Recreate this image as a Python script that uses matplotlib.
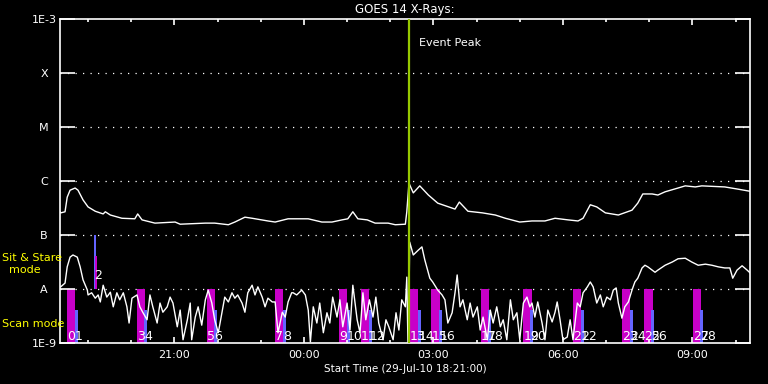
"""GOES 14 X-ray light curve with IRIS-style observing-mode bars (IDL look)."""
import matplotlib
matplotlib.use("Agg")
import matplotlib.pyplot as plt
from matplotlib import font_manager
import numpy as np

# time = minutes after 29-Jul-10 18:21:00, flux = log10(W/m^2)
long_t = [0, 1, 7, 10, 14, 21, 25, 32, 39, 49,
          60, 63, 70, 86, 104, 108, 114, 132, 160, 167,
          202, 215, 234, 243, 257, 267, 289, 299, 317, 345,
          364, 378, 392, 400, 407, 414, 427, 438, 456, 466,
          480, 482, 485, 486, 491, 500, 512, 525, 549, 555,
          567, 587, 605, 619, 639, 656, 674, 688, 706, 720,
          727, 737, 746, 758, 776, 795, 803, 810, 823, 831,
          841, 859, 869, 883, 892, 924, 942, 959]
long_lg = [-6.57, -6.59, -6.57, -6.30, -6.17, -6.13, -6.17, -6.35, -6.48, -6.56,
           -6.61, -6.57, -6.63, -6.69, -6.70, -6.61, -6.72, -6.78, -6.76, -6.80,
           -6.78, -6.78, -6.81, -6.76, -6.67, -6.69, -6.74, -6.76, -6.70, -6.70,
           -6.76, -6.76, -6.72, -6.70, -6.57, -6.70, -6.72, -6.78, -6.78, -6.81,
           -6.80, -6.57, -6.04, -6.07, -6.22, -6.09, -6.26, -6.41, -6.52, -6.39,
           -6.56, -6.59, -6.63, -6.69, -6.76, -6.74, -6.74, -6.69, -6.72, -6.74,
           -6.69, -6.44, -6.48, -6.59, -6.63, -6.54, -6.41, -6.24, -6.24, -6.26,
           -6.20, -6.13, -6.09, -6.11, -6.09, -6.11, -6.15, -6.19]

short_t = [1, 7, 10, 14, 18, 24, 28, 32, 38, 39,
           44, 49, 53, 56, 60, 65, 70, 74, 79, 83,
           88, 93, 96, 100, 107, 111, 115, 121, 125, 129,
           135, 139, 143, 149, 153, 157, 163, 167, 171, 177,
           181, 183, 188, 192, 197, 202, 206, 211, 215, 220,
           225, 229, 234, 239, 243, 247, 253, 257, 261, 267,
           271, 275, 281, 285, 289, 295, 299, 303, 309, 313,
           317, 322, 324, 329, 336, 341, 345, 348, 352, 357,
           361, 366, 371, 375, 379, 385, 389, 393, 399, 403,
           407, 413, 417, 421, 425, 430, 435, 439, 443, 449,
           453, 457, 463, 467, 471, 475, 480, 482, 484, 486,
           491, 498, 503, 507, 514, 518, 525, 531, 535, 539,
           545, 549, 552, 556, 560, 566, 570, 574, 580, 584,
           588, 594, 598, 602, 607, 612, 616, 621, 626, 630,
           635, 639, 644, 649, 653, 656, 660, 664, 670, 674,
           678, 684, 688, 691, 695, 699, 705, 709, 713, 719,
           723, 727, 733, 737, 741, 746, 751, 755, 760, 765,
           769, 773, 776, 781, 785, 790, 795, 799, 803, 809,
           813, 817, 823, 827, 831, 841, 851, 859, 869, 878,
           887, 897, 906, 915, 924, 931, 935, 941, 948, 955,
           959]
short_lg = [-7.96, -7.89, -7.59, -7.41, -7.37, -7.41, -7.59, -7.83, -8.02, -8.11,
            -8.07, -8.17, -8.11, -8.24, -7.93, -8.15, -8.06, -8.33, -8.07, -8.20,
            -8.07, -8.33, -8.63, -8.17, -8.11, -8.33, -8.43, -8.57, -8.11, -8.33,
            -8.63, -8.26, -8.43, -8.33, -8.15, -8.26, -8.70, -8.39, -8.94, -8.57,
            -8.26, -8.94, -8.52, -8.33, -8.67, -8.20, -8.02, -8.26, -8.57, -8.81,
            -8.44, -8.15, -8.24, -8.07, -8.17, -8.11, -8.26, -8.43, -8.07, -7.93,
            -8.11, -7.96, -8.15, -8.33, -8.17, -8.24, -8.24, -8.81, -8.43, -8.52,
            -8.24, -8.07, -8.07, -8.11, -8.02, -8.11, -8.39, -8.98, -8.33, -8.63,
            -8.26, -8.81, -8.44, -8.63, -8.15, -8.52, -8.20, -8.70, -8.26, -8.76,
            -7.93, -8.57, -8.81, -8.07, -8.57, -8.20, -8.52, -8.15, -8.63, -8.94,
            -8.57, -8.70, -8.94, -8.44, -8.76, -8.20, -8.33, -7.78, -9.30, -7.13,
            -7.37, -7.28, -7.22, -7.46, -7.80, -7.87, -8.02, -8.11, -8.20, -8.63,
            -8.44, -8.07, -7.74, -8.33, -8.20, -8.57, -8.26, -8.52, -8.33, -8.76,
            -8.52, -8.94, -8.39, -8.63, -8.33, -8.70, -8.57, -8.94, -8.20, -8.57,
            -8.44, -8.94, -8.26, -8.15, -8.33, -8.26, -8.52, -8.24, -8.63, -8.94,
            -8.39, -8.61, -8.43, -8.24, -8.57, -8.94, -8.89, -8.57, -8.94, -8.26,
            -8.33, -8.07, -7.96, -7.87, -7.96, -8.26, -8.11, -8.33, -8.15, -8.20,
            -8.02, -7.98, -8.26, -8.54, -8.33, -8.24, -8.02, -7.87, -7.80, -7.61,
            -7.56, -7.59, -7.65, -7.69, -7.65, -7.56, -7.50, -7.44, -7.43, -7.50,
            -7.56, -7.54, -7.56, -7.59, -7.61, -7.61, -7.80, -7.65, -7.57, -7.65,
            -7.70]

# observing blocks (start minute); scan mode: raster (magenta) + follow-up (blue)
scan_mag_t = [10, 107, 204, 299, 388, 418, 486, 516, 585, 644, 713, 781, 812, 880]
scan_blue_t = [21, 117, 214, 310, 399, 430, 498, 527, 595, 653, 724, 792, 821, 890]
scan_mag_lbl = ["0", "3", "5", "7", "9", "11", "13", "15", "17", "19", "21", "23", "25", "27"]
scan_blue_lbl = ["1", "4", "6", "8", "10", "12", "14", "16", "18", "20", "22", "24", "26", "28"]
sas_blue_t, sas_mag_t, sas_lbl = [47], [49], ["2"]
event_peak_t = 485

ylevels = [1e-3, 1e-4, 1e-5, 1e-6, 1e-7, 1e-8, 1e-9]
ylabels = ["1E-3", "X", "M", "C", "B", "A", "1E-9"]
hour_lbl = ["21:00", "00:00", "03:00", "06:00", "09:00"]

MAG, BLUE, GRN, YEL = "#c800c8", "#6464ff", "#96c800", "#ffff00"
plt.rcParams["font.family"] = "DejaVu Sans"
# tall narrow digits for the block numbers, like the IDL vector font
_names = {f.name for f in font_manager.fontManager.ttflist}
NUMFONT = "Liberation Sans Narrow" if "Liberation Sans Narrow" in _names else "DejaVu Sans"
NUMSIZE = 10.5 if NUMFONT != "DejaVu Sans" else 9

fig = plt.figure(figsize=(7.68, 3.84), dpi=100, facecolor="black")
ax = fig.add_axes([60 / 768, 1 - 343 / 384, 690 / 768, 324 / 384], facecolor="black")
ax.set_yscale("log")
ax.set_ylim(1e-9, 1e-3)
ax.set_xlim(0, 959)

lo = 10 ** -9.0
part = 10 ** 0.61
# scan mode bars
ax.bar(scan_mag_t, [1e-8 - lo] * len(scan_mag_t), width=11.5, bottom=lo, align="edge", color=MAG, lw=0, zorder=1)
ax.bar(scan_blue_t, [lo * part - lo] * len(scan_blue_t), width=4, bottom=lo, align="edge", color=BLUE, lw=0, zorder=1)
# sit & stare bars
ax.bar(sas_blue_t, [1e-7 - 1e-8], width=3, bottom=1e-8, align="edge", color=BLUE, lw=0, zorder=1)
ax.bar(sas_mag_t, [1e-8 * part - 1e-8], width=3, bottom=1e-8, align="edge", color=MAG, lw=0, zorder=1)

for lv in ylevels[1:-1]:
    ax.axhline(lv, color="white", lw=0.9, ls=(0, (1, 5)), zorder=0)

ax.plot(long_t, 10 ** np.array(long_lg), color="white", lw=1, zorder=3)
ax.plot(short_t, 10 ** np.array(short_lg), color="white", lw=1, zorder=3)
ax.axvline(event_peak_t, color=GRN, lw=1.6, zorder=4)
ax.text(event_peak_t + 14, 10 ** -3.44, "Event Peak", color="white", fontsize=8, va="center")

for t, s in zip(scan_mag_t + scan_blue_t, scan_mag_lbl + scan_blue_lbl):
    ax.text(t, 10 ** -8.95, s, color="white", fontsize=NUMSIZE, family=NUMFONT,
            ha="left", va="baseline", zorder=5)
for t, s in zip(sas_blue_t, sas_lbl):
    ax.text(t + 1, 10 ** -7.82, s, color="white", fontsize=NUMSIZE, family=NUMFONT,
            ha="left", va="baseline", zorder=5)

# axes styling
for sp in ax.spines.values():
    sp.set_color("white"); sp.set_linewidth(1.2)
ax.set_yticks(ylevels)
ax.set_yticklabels(ylabels)
ax.yaxis.set_minor_locator(matplotlib.ticker.NullLocator())
ax.tick_params(axis="y", which="major", direction="in", length=10.5, width=1.2, color="white",
               labelcolor="white", labelsize=8, pad=11.5, right=True)
for lab in ax.get_yticklabels():
    lab.set_ha("center")

major = [159 + 180 * k for k in range(5)]
minor = [39 + 60 * k for k in range(16)]
ax.set_xticks(major)
ax.set_xticklabels(hour_lbl)
ax.set_xticks(minor, minor=True)
ax.tick_params(axis="x", which="major", direction="in", length=4.5, width=1.2, color="white",
               labelcolor="white", labelsize=8, pad=5, top=True)
ax.tick_params(axis="x", which="minor", direction="in", length=2.2, width=1.2, color="white", top=True)

ax.set_title("GOES 14 X-Rays:", color="white", fontsize=8.5, pad=4)
ax.set_xlabel("Start Time (29-Jul-10 18:21:00)", color="white", fontsize=7.5, labelpad=3)

fig.text(2 / 768, 1 - 258 / 384, "Sit & Stare", color=YEL, fontsize=8, va="center", ha="left")
fig.text(25 / 768, 1 - 270 / 384, "mode", color=YEL, fontsize=8, va="center", ha="center")
fig.text(2 / 768, 1 - 324 / 384, "Scan mode", color=YEL, fontsize=8, va="center", ha="left")

fig.savefig("out.png", dpi=100, facecolor="black")
